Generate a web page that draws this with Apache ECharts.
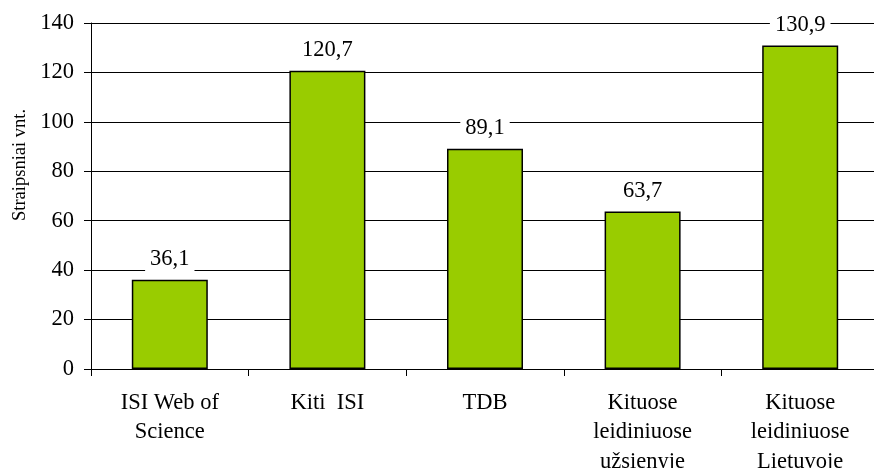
<!DOCTYPE html>
<html>
<head>
<meta charset="utf-8">
<script src="https://cdn.jsdelivr.net/npm/echarts@6/dist/echarts.min.js"></script>
<style>html,body{margin:0;padding:0;background:#fff;}#c{width:874px;height:468px;}</style>
</head>
<body>
<div id="c"></div>
<script>
const categories = ['ISI Web of\nScience', 'Kiti  ISI', 'TDB', 'Kituose\nleidiniuose\nužsienyje', 'Kituose\nleidiniuose\nLietuvoje'];
const values = [36.1, 120.7, 89.1, 63.7, 130.9];
const yTicks = [0, 20, 40, 60, 80, 100, 120, 140];
const yName = 'Straipsniai vnt.';

const font = 'Liberation Serif';
const chart = echarts.init(document.getElementById('c'), null, {renderer: 'canvas'});
chart.setOption({
  animation: false,
  backgroundColor: '#fff',
  grid: {left: 91, right: -5, top: 23, bottom: 99, containLabel: false, outerBoundsMode: 'none'},
  xAxis: {
    type: 'category',
    data: categories,
    axisLine: {lineStyle: {color: '#000', width: 1}},
    axisTick: {show: true, length: 7, lineStyle: {color: '#000'}},
    axisLabel: {color: '#000', fontFamily: font, fontSize: 22.5, lineHeight: 29.5, margin: 19, interval: 0}
  },
  yAxis: {
    type: 'value',
    min: 0, max: 140, interval: 20,
    axisLine: {show: true, lineStyle: {color: '#000', width: 1}},
    axisTick: {show: true, length: 7, lineStyle: {color: '#000'}},
    axisLabel: {color: '#000', fontFamily: font, fontSize: 22.5, margin: 17,
      formatter: v => yTicks.includes(v) ? String(v) : ''},
    splitLine: {show: true, lineStyle: {color: '#000', width: 1}}
  },
  graphic: [{
    type: 'text', x: 20, y: 165, rotation: Math.PI / 2,
    style: {text: yName, fontFamily: font, fontSize: 18.5, fill: '#000', textAlign: 'center', textVerticalAlign: 'middle'}
  }],
  series: [{
    type: 'bar',
    data: values,
    barWidth: 76,
    itemStyle: {color: '#99cc00', borderColor: '#000', borderWidth: 1.5},
    label: {
      show: true, position: 'top', distance: 8,
      color: '#000', fontFamily: font, fontSize: 22.5,
      backgroundColor: '#fff', padding: [1, 5],
      formatter: p => String(p.value).replace('.', ',')
    }
  }]
});
</script>
</body>
</html>
